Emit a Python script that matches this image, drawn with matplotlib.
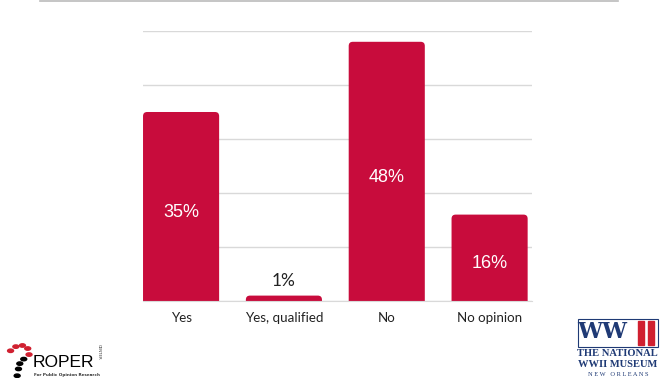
import matplotlib.pyplot as plt
from matplotlib.lines import Line2D
from matplotlib.patches import Rectangle, Circle, FancyBboxPatch

categories = ["Yes", "Yes, qualified", "No", "No opinion"]
values = [35, 1, 48, 16]
labels = ["35%", "1%", "48%", "16%"]

bar_color = "#C80C3C"

fig = plt.figure(figsize=(6.6, 3.78), dpi=100)
ax = fig.add_axes([0.2167, 0.2037, 0.589, 0.7143])

x = range(len(categories))
bars = ax.bar(x, values, width=0.74, color=bar_color, zorder=3)

# rounded tops: swap each bar for a rounded box (bottom pushed below the axis)
for b in bars:
    b.set_visible(False)
    ax.add_patch(FancyBboxPatch((b.get_x(), -3), b.get_width(), b.get_height() + 3,
                                boxstyle="round,pad=0,rounding_size=0.04",
                                mutation_aspect=19, facecolor=bar_color,
                                edgecolor="none", zorder=3))

ax.set_ylim(0, 50)
ax.set_xlim(-0.37, 3.41)
ax.set_yticks([0, 10, 20, 30, 40, 50])
ax.yaxis.grid(True, color="#d9d9d9", linewidth=1, zorder=0)
ax.set_yticklabels([])
ax.tick_params(axis="y", length=0)
ax.tick_params(axis="x", length=0, pad=8)
ax.set_xticks(list(x))
ax.set_xticklabels(categories, fontfamily="Lato", fontsize=9.6, color="#222222")
for s in ["top", "right", "left"]:
    ax.spines[s].set_visible(False)
ax.spines["bottom"].set_color("#d9d9d9")
ax.spines["bottom"].set_zorder(4)

for b, v, lab in zip(bars, values, labels):
    cx = b.get_x() + b.get_width() / 2
    if v >= 5:
        ax.text(cx, v / 2 - 1.1, lab, ha="center", va="center", color="white",
                fontsize=13, fontfamily="Liberation Sans", zorder=5)
    else:
        ax.text(cx, v + 1.2, lab, ha="center", va="bottom", color="#222222",
                fontsize=12.5, fontfamily="Lato", zorder=5)

# top rule
fig.add_artist(Line2D([0.061, 0.936], [0.997, 0.997], color="#bbbbbb", linewidth=1.2))

# ROPER logo (text approximation)
fig.text(0.050, 0.029, "ROPER", fontfamily="Liberation Sans",
         fontsize=12.5, color="black", ha="left", va="baseline")
fig.text(0.052, 0.008, "For Public Opinion Research", fontfamily="DejaVu Sans",
         fontweight="bold", fontsize=3.0, color="#333333", ha="left", va="center")
fig.text(0.149, 0.068, "CENTER", fontfamily="DejaVu Sans", fontsize=2.8,
         rotation=270, color="#333333", ha="center", va="center")
dots = [(0.016, 0.072, "#d02030"), (0.024, 0.083, "#d02030"), (0.034, 0.086, "#d02030"),
        (0.042, 0.078, "#d02030"), (0.044, 0.062, "#d02030"), (0.036, 0.050, "black"),
        (0.030, 0.038, "black"), (0.028, 0.024, "black"), (0.026, 0.006, "black")]
for dx, dy, c in dots:
    fig.add_artist(Circle((dx, dy), 0.0045, color=c, transform=fig.transFigure))

# WWII museum logo (text approximation)
fig.add_artist(Rectangle((0.876, 0.083), 0.121, 0.074, facecolor="white",
                         edgecolor="#1f3a75", linewidth=0.8, transform=fig.transFigure))
fig.text(0.913, 0.121, "WW", fontfamily="DejaVu Serif", fontweight="bold", fontsize=16,
         color="#1f3a75", ha="center", va="center")
fig.add_artist(Rectangle((0.966, 0.088), 0.009, 0.064, color="#d02030", transform=fig.transFigure))
fig.add_artist(Rectangle((0.982, 0.088), 0.009, 0.064, color="#d02030", transform=fig.transFigure))
fig.text(0.936, 0.066, "THE NATIONAL", fontfamily="Liberation Serif", fontweight="bold",
         fontsize=7.6, color="#1f3a75", ha="center", va="center")
fig.text(0.936, 0.037, "WWII MUSEUM", fontfamily="Liberation Serif", fontweight="bold",
         fontsize=7.6, color="#1f3a75", ha="center", va="center")
fig.text(0.936, 0.010, "N E W   O R L E A N S", fontfamily="Liberation Serif",
         fontsize=4.6, color="#1f3a75", ha="center", va="center")

fig.savefig("out.png", dpi=100)
